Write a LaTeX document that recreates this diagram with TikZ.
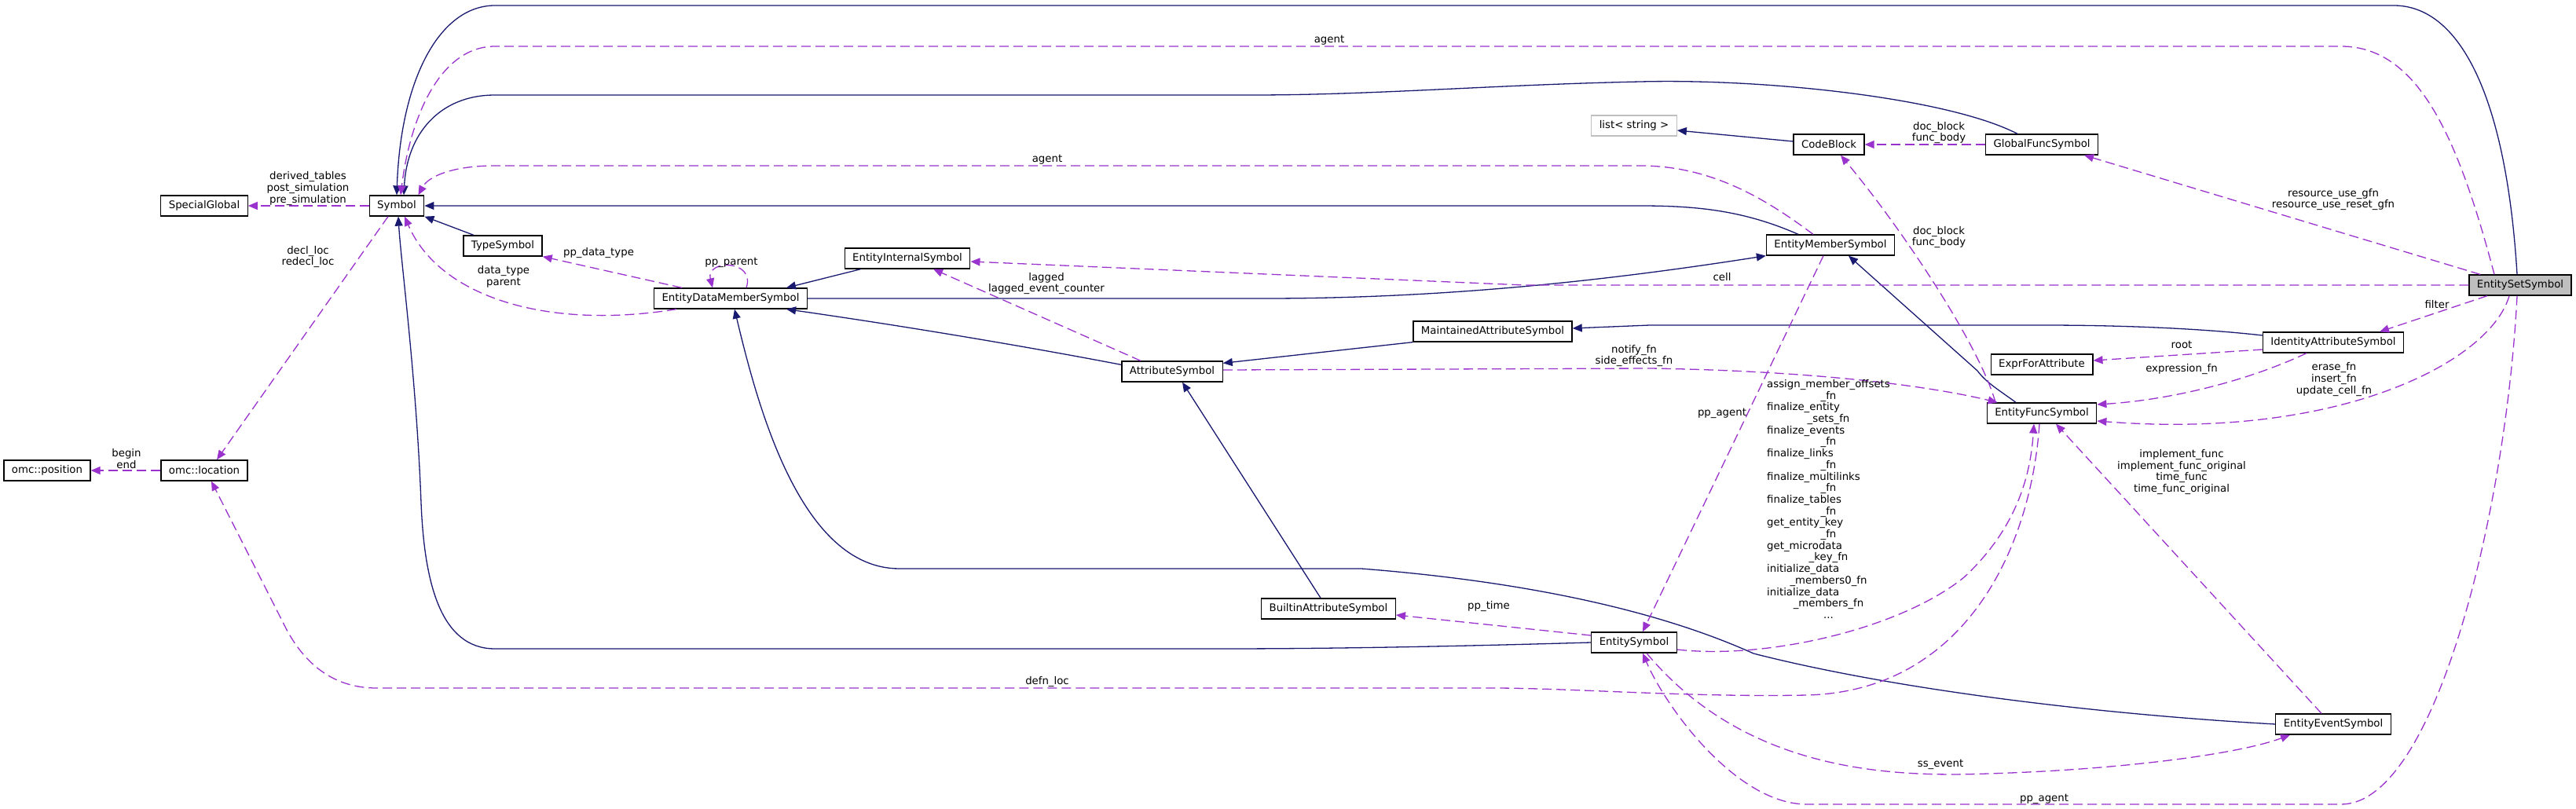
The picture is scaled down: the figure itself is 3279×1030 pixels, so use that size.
\documentclass[tikz,border=0pt]{standalone}
\usepackage{fontspec}
\setmainfont{DejaVu Sans}
\usetikzlibrary{arrows.meta}
\definecolor{inhblue}{HTML}{191970}
\definecolor{usepurple}{HTML}{9A32CD}
\newcommand{\ctrrow}[1]{\multicolumn{1}{@{}c@{}}{#1}}

\begin{document}
\begin{tikzpicture}[
  x=1pt, y=-1pt,
  every node/.style={font=\fontsize{13.3}{14.7}\selectfont},
  cls/.style={rectangle, draw=black, line width=1.3pt, fill=white, inner xsep=10pt, inner ysep=0pt, minimum height=26pt},
  focus/.style={cls, fill=black!25},
  ext/.style={cls, draw=black!25},
  inherit/.style={-{Triangle[length=12pt, width=10pt]}, draw=inhblue, line width=1.3pt},
  usage/.style={-{Triangle[length=12pt, width=10pt]}, draw=usepurple, line width=1.3pt, dash pattern=on 12pt off 6pt},
  lbl/.style={align=center, inner sep=0pt}
]
\useasboundingbox (0,0) rectangle (3279,1030);

\node[cls] (pos) at (60,599) {omc::position};
\node[cls] (loc) at (260,599) {omc::location};
\node[cls] (spec) at (260,262) {SpecialGlobal};
\node[cls] (sym) at (505,262) {Symbol};
\node[cls] (type) at (640,313) {TypeSymbol};
\node[cls] (edms) at (930,380) {EntityDataMemberSymbol};
\node[cls] (eis) at (1155,329) {EntityInternalSymbol};
\node[cls] (attr) at (1492,473) {AttributeSymbol};
\node[cls] (mas) at (1900,422) {MaintainedAttributeSymbol};
\node[cls] (bas) at (1691,775) {BuiltinAttributeSymbol};
\node[cls] (es) at (2080,818) {EntitySymbol};
\node[ext] (lst) at (2080,160) {list< string >};
\node[cls] (cb) at (2328,184) {CodeBlock};
\node[cls] (gfs) at (2599,184) {GlobalFuncSymbol};
\node[cls] (ems) at (2330,312) {EntityMemberSymbol};
\node[focus] (ess) at (3208,363) {EntitySetSymbol};
\node[cls] (ias) at (2970,436) {IdentityAttributeSymbol};
\node[cls] (efa) at (2599,464) {ExprForAttribute};
\node[cls] (efs) at (2599,526) {EntityFuncSymbol};
\node[cls] (ees) at (2970,922) {EntityEventSymbol};

\draw[inherit] ([xshift=-4pt]ess.north) .. controls (3190,120) and (3130,7) .. (3047,7) -- (630,7) .. controls (560,7) and (510,100) .. (sym.north);
\draw[inherit] ([xshift=-31pt]gfs.north) .. controls (2480,125) and (2250,100) .. (2088,104) .. controls (1900,108) and (1750,121) .. (1594,121) -- (630,121) .. controls (560,121) and (518,170) .. ([xshift=9pt]sym.north);
\draw[inherit] ([xshift=-41pt]ems.north) .. controls (2220,268) and (2160,262) .. (2088,262) -- (sym.east);
\draw[inherit] ([xshift=-37pt]type.north) -- (sym.south east);
\draw[inherit] (edms.east) -- (1610,380) .. controls (1850,380) and (2060,355) .. (ems.south west);
\draw[inherit] ([xshift=21pt]eis.south west) -- ([xshift=-27pt]edms.north east);
\draw[inherit] ([yshift=-5pt]attr.north west) .. controls (1300,440) and (1150,415) .. ([xshift=-27pt]edms.south east);
\draw[inherit] (mas.south west) -- ([yshift=-3pt]attr.north east);
\draw[inherit] ([yshift=9pt]ias.west) .. controls (2800,418) and (2700,414) .. (2600,414) -- (2100,414) -- ([yshift=4pt]mas.east);
\draw[inherit] ([xshift=-10pt]bas.north) -- ([xshift=13pt]attr.south);
\draw[inherit] (es.west) .. controls (1850,823) and (1700,826) .. (1550,826) -- (630,826) .. controls (560,826) and (540,740) .. (536,640) .. controls (530,480) and (510,330) .. ([xshift=2pt]sym.south);
\draw[inherit] (ees.west) .. controls (2650,908) and (2400,875) .. (2232,832) .. controls (2150,795) and (2000,745) .. (1733,724) -- (1145,724) .. controls (1020,724) and (965,520) .. ([xshift=5pt]edms.south);
\draw[inherit] ([xshift=-33pt]efs.north) .. controls (2545,497) and (2528,487) .. (2517,472) -- ([xshift=23pt]ems.south);
\draw[inherit] ([yshift=4pt]cb.west) -- ([yshift=-6pt]lst.east);

\draw[usage] ([xshift=-33pt]ess.north) .. controls (3130,180) and (3080,59) .. (2980,59) -- (630,59) .. controls (560,59) and (522,150) .. ([xshift=5pt]sym.north);
\draw[usage] ([xshift=-22pt]ems.north) .. controls (2250,255) and (2180,211) .. (2088,211) -- (630,211) .. controls (575,211) and (545,225) .. ([xshift=-8pt]sym.north east);
\draw[usage] (sym.west) -- (spec.east);
\draw[usage] ([xshift=-11pt]sym.south) -- ([xshift=16pt]loc.north);
\draw[usage] (loc.west) -- (pos.east);
\draw[usage] ([xshift=-62pt]edms.north) -- (type.south east);
\draw[usage] ([xshift=20pt]edms.north) .. controls (962,330) and (898,330) .. ([xshift=-23pt]edms.north);
\draw[usage] ([xshift=-69pt]edms.south) .. controls (700,420) and (560,380) .. ([xshift=10pt]sym.south);
\draw[usage] ([xshift=-40pt]attr.north) -- ([xshift=33pt]eis.south);
\draw[usage] ([yshift=2pt]attr.east) -- (2100,469) .. controls (2300,472) and (2450,490) .. ([xshift=14pt]efs.north west);
\draw[usage] (ess.west) -- (1940,363) -- ([yshift=-4pt]eis.east);
\draw[usage] (gfs.west) -- (cb.east);
\draw[usage] ([xshift=-59pt]efs.north) .. controls (2520,440) and (2420,290) .. ([xshift=15pt]cb.south);
\draw[usage] ([xshift=-51pt]ess.north) -- ([xshift=54pt]gfs.south);
\draw[usage] ([xshift=-42pt]ess.south) -- ([xshift=59pt]ias.north);
\draw[usage] ([xshift=-14pt]ess.south) .. controls (3170,460) and (2980,560) .. ([yshift=-10pt]efs.east);
\draw[usage] ([yshift=-9pt]ias.west) -- ([yshift=5pt]efa.east);
\draw[usage] ([xshift=-34pt]ias.south) .. controls (2850,490) and (2750,510) .. ([yshift=11pt]efs.east);
\draw[usage] ([xshift=-4pt]ess.south) .. controls (3190,650) and (3100,1024) .. (2980,1024) -- (2300,1024) .. controls (2210,1024) and (2120,900) .. ([xshift=11pt]es.south);
\draw[usage] ([xshift=16pt]es.south) .. controls (2220,980) and (2400,990) .. (2530,985) .. controls (2700,980) and (2850,960) .. ([xshift=-55pt]ees.south);
\draw[usage] ([xshift=-15pt]ees.north) -- ([xshift=18pt]efs.south);
\draw[usage] ([yshift=-9pt]es.east) .. controls (2250,840) and (2420,800) .. (2500,735) .. controls (2570,670) and (2585,600) .. ([xshift=-10pt]efs.south);
\draw[usage] ([xshift=-3pt]efs.south) .. controls (2585,700) and (2500,880) .. (2300,885) .. controls (2150,888) and (2000,876) .. (1900,876) -- (479,876) .. controls (420,876) and (385,840) .. (364,800) -- ([xshift=9pt]loc.south);
\draw[usage] ([xshift=-9pt]ems.south) -- ([xshift=11pt]es.north);
\draw[usage] ([yshift=9pt]es.west) -- ([yshift=-8pt]bas.east);

\node[lbl] (l-agent1) at (1692,51) {agent};
\node[lbl] (l-agent2) at (1333,203) {agent};
\node[lbl] (l-special) at (392,240) {derived\_tables\\post\_simulation\\pre\_simulation};
\node[lbl] (l-decl) at (392,327) {decl\_loc\\redecl\_loc};
\node[lbl] (l-begin) at (161,584) {begin\\end};
\node[lbl] (l-datatype) at (762,322) {pp\_data\_type};
\node[lbl] (l-parent) at (931,334) {pp\_parent};
\node[lbl] (l-dtparent) at (641,352) {data\_type\\parent};
\node[lbl] (l-lagged) at (1332,361) {lagged\\lagged\_event\_counter};
\node[lbl] (l-cell) at (2192,353) {cell};
\node[lbl] (l-notify) at (2080,453) {notify\_fn\\side\_effects\_fn};
\node[lbl] (l-doc1) at (2468,169) {doc\_block\\func\_body};
\node[lbl] (l-doc2) at (2468,302) {doc\_block\\func\_body};
\node[lbl] (l-resource) at (2970,254) {resource\_use\_gfn\\resource\_use\_reset\_gfn};
\node[lbl] (l-filter) at (3102,388) {filter};
\node[lbl] (l-root) at (2777,439) {root};
\node[lbl] (l-expr) at (2777,470) {expression\_fn};
\node[lbl] (l-erase) at (2971,483) {erase\_fn\\insert\_fn\\update\_cell\_fn};
\node[lbl] (l-ppagent1) at (2192,526) {pp\_agent};
\node[lbl, anchor=north west] (l-fns) at (2249,483) {\begin{tabular}{@{}l@{}}
assign\_member\_offsets\\ \ctrrow{\_fn}\\
finalize\_entity\\ \ctrrow{\_sets\_fn}\\
finalize\_events\\ \ctrrow{\_fn}\\
finalize\_links\\ \ctrrow{\_fn}\\
finalize\_multilinks\\ \ctrrow{\_fn}\\
finalize\_tables\\ \ctrrow{\_fn}\\
get\_entity\_key\\ \ctrrow{\_fn}\\
get\_microdata\\ \ctrrow{\_key\_fn}\\
initialize\_data\\ \ctrrow{\_members0\_fn}\\
initialize\_data\\ \ctrrow{\_members\_fn}\\
\ctrrow{...}
\end{tabular}};
\node[lbl] (l-implement) at (2777,601) {implement\_func\\implement\_func\_original\\time\_func\\time\_func\_original};
\node[lbl] (l-pptime) at (1895,772) {pp\_time};
\node[lbl] (l-defn) at (1333,868) {defn\_loc};
\node[lbl] (l-ssevent) at (2470,973) {ss\_event};
\node[lbl] (l-ppagent2) at (2602,1017) {pp\_agent};
\end{tikzpicture}
\end{document}
